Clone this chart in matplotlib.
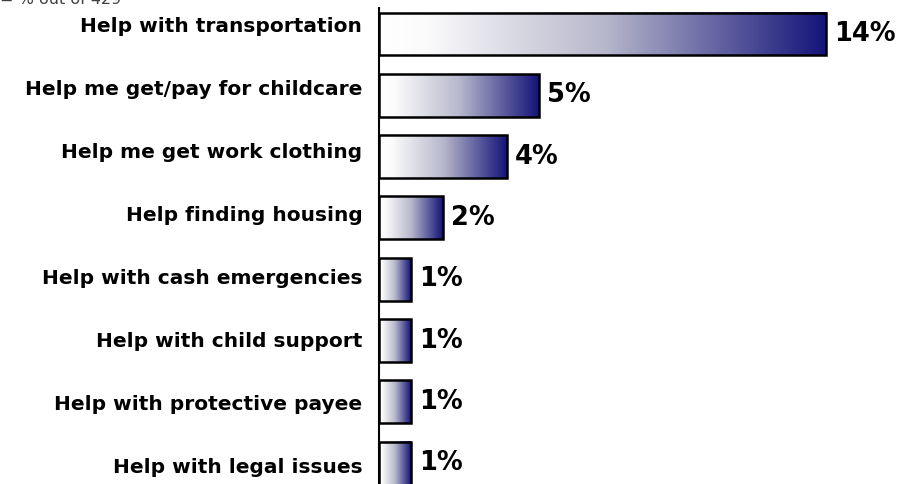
import numpy as np
import matplotlib.pyplot as plt
import matplotlib.transforms as mtransforms
from matplotlib.colors import LinearSegmentedColormap

categories = [
    'Help with transportation',
    'Help me get/pay for childcare',
    'Help me get work clothing',
    'Help finding housing',
    'Help with cash emergencies',
    'Help with child support',
    'Help with protective payee',
    'Help with legal issues',
]
values = [14, 5, 4, 2, 1, 1, 1, 1]
value_labels = ['14%', '5%', '4%', '2%', '1%', '1%', '1%', '1%']

W, H = 902, 484
fig = plt.figure(figsize=(W / 100, H / 100), dpi=100)
ax = fig.add_axes([379 / W, 0, 1 - 379 / W, (H - 8) / H])

cmap = LinearSegmentedColormap.from_list(
    'fade', [(0, '#ffffff'), (0.1, '#fbfbfc'), (0.5, '#b8b8cc'), (1, '#14147a')])
grad = np.linspace(0, 1, 256).reshape(1, -1)
bh = 0.7

for i, v in enumerate(values):
    ax.imshow(grad, cmap=cmap, extent=[0, v, i + bh / 2, i - bh / 2],
              aspect='auto', interpolation='bicubic', zorder=1)
    ax.barh(i, v, height=bh, facecolor='none', edgecolor='black',
            linewidth=1.8, zorder=2)
    ax.text(v + 0.25, i, value_labels[i], va='center', ha='left',
            fontsize=18.5, fontweight='bold', color='black')

px = 31.93
ax.set_xlim(0, (W - 379) / px)
ax.set_ylim(7.34, -0.424)
ax.set_yticks(range(len(categories)))
ax.set_yticklabels(categories, fontsize=14.5, fontweight='bold')
ax.tick_params(axis='y', length=0, pad=12)
ax.set_xticks([])

# category labels sit a little higher than their bars near the top
for i, lab in enumerate(ax.get_yticklabels()):
    dy = (9 - 1.6 * i) / 100
    lab.set_transform(lab.get_transform() +
                      mtransforms.ScaledTranslation(0, dy, fig.dpi_scale_trans))

for s in ['top', 'right', 'bottom']:
    ax.spines[s].set_visible(False)
ax.spines['left'].set_linewidth(1.5)

fig.text(0.0, 1.0, '= % out of 429', fontsize=11.5, color='#404040',
         ha='left', va='center')

fig.savefig('out.png', dpi=100)
